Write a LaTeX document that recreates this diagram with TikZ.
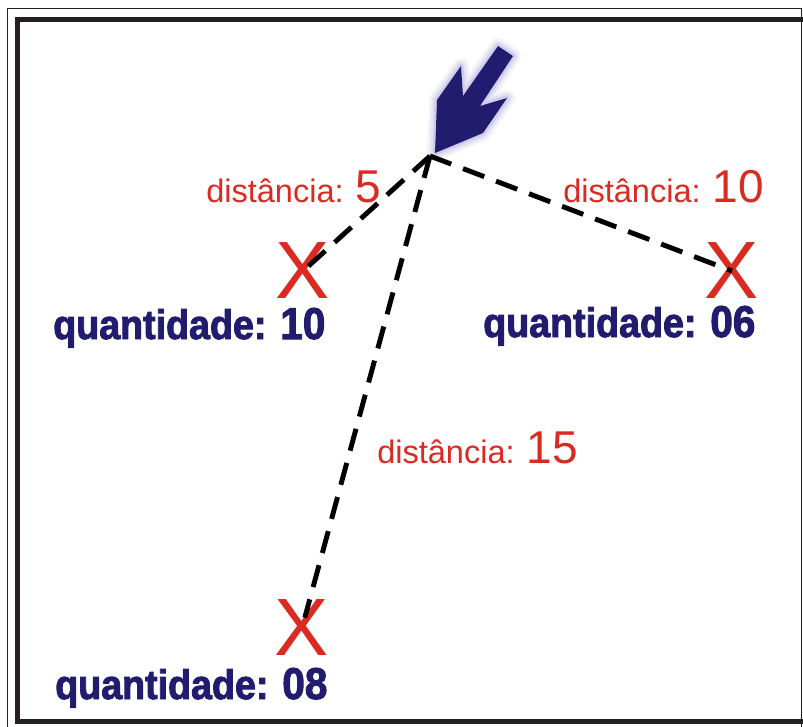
\documentclass[tikz,border=0pt]{standalone}
\usepackage{fontspec}
\setmainfont{Liberation Sans}
\newfontfamily\heavyfont[FakeBold=2.2,FakeStretch=0.91]{Liberation Sans Bold}
\usetikzlibrary{positioning}
\definecolor{navy}{HTML}{211C6E}
\definecolor{mapred}{HTML}{DA2A22}
\definecolor{framegray}{HTML}{231F20}
\definecolor{glow}{HTML}{A9A4DA}
\newcommand{\dnum}[1]{{\fontsize{34.5}{37}\selectfont #1}}
\newcommand{\qnum}[1]{{\fontsize{33.4}{36}\selectfont #1}}
\tikzset{
  dist/.style={font=\fontsize{24.4}{27}\selectfont,text=mapred,anchor=base west,inner sep=0pt},
  qty/.style={font=\heavyfont\fontsize{31}{34}\selectfont,text=navy,anchor=base west,inner sep=0pt},
  cross/.style={font=\fontsize{61}{64}\selectfont,text=mapred,inner sep=0pt},
  route/.style={draw=black,line width=3.7pt,dash pattern=on 17pt off 9.5pt},
  pointer/.style={fill=navy,draw=none}
}

\begin{document}
\begin{tikzpicture}[x=0.75pt,y=-0.75pt]
\clip (0,0) rectangle (803,726);
\fill[white] (0,0) rectangle (803,726);
% frame
\draw[framegray,line width=1.1pt] (7.5,8.5) rectangle (801.5,760);
\draw[framegray,line width=3.75pt] (17.5,19.5) rectangle (830,721.5);
% pointer arrow with soft halo
\foreach \w/\o in {12/0.12,8/0.2,4/0.35}
  \draw[glow,line width=\w pt,opacity=\o,line join=round] (435,153)--(437,100)--(461,66)--(463,96)--(498,46)--(513,56)--(480,106)--(507,98)--(483,133)--cycle;
\fill[pointer] (435,153)--(437,100)--(461,66)--(463,96)--(498,46)--(513,56)--(480,106)--(507,98)--(483,133)--cycle;
\coordinate (hub) at (430,156);
% stores
\node[cross] (x1) at (303,271) {X};
\node[cross] (x2) at (732,271) {X};
\node[cross] (x3) at (302,628) {X};
\draw[route] (hub)--(x1.center);
\draw[route] (hub)--(x2.center);
\draw[route,shorten >=8pt] (hub)--(x3.center);
% labels
\node[dist] (d1) at (206,202) {distância: \dnum{5}};
\node[dist] (d2) at (563,202) {distância: \dnum{10}};
\node[dist] (d3) at (377,463) {distância: \dnum{15}};
\node[qty] (q1) at (53,339) {quantidade: \qnum{10}};
\node[qty] (q2) at (483,337) {quantidade: \qnum{06}};
\node[qty] (q3) at (55,699) {quantidade: \qnum{08}};
\end{tikzpicture}
\end{document}
